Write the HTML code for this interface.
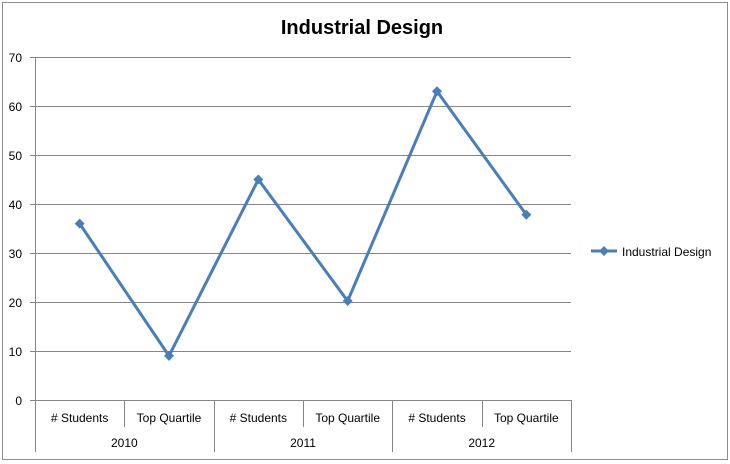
<!DOCTYPE html>
<html><head><meta charset="utf-8"><style>
body{margin:0;background:#fff;font-family:"Liberation Sans",sans-serif}
svg{display:block}
</style></head><body>
<svg width="730" height="464">
<rect x="2.5" y="2.5" width="725" height="457" fill="#fff" stroke="#8c8c8c"/>
<text x="362" y="34" text-anchor="middle" font-size="20" font-weight="bold">Industrial Design</text>
<g id="grid"></g><g id="axes"></g><g id="series"></g>
<g>
<line x1="591" y1="251" x2="617" y2="251" stroke="#4a7ebb" stroke-width="3"/>
<path d="M604 246 L609 251 L604 256 L599 251Z" fill="#4a7ebb"/>
<text x="622" y="256" font-size="12">Industrial Design</text>
</g>
</svg>
<script>
const categories=["# Students","Top Quartile","# Students","Top Quartile","# Students","Top Quartile"];
const years=["2010","2011","2012"];
const values=[36,9,45,20.2,63,37.8];
const yTicks=[0,10,20,30,40,50,60,70];
const NS="http://www.w3.org/2000/svg";
const L=35,R=571,T=57,B=400,yMax=70;
const y=v=>B-(v/yMax)*(B-T);
const cw=(R-L)/categories.length;
const x=i=>L+cw*(i+0.5);
function mk(t,a,p){const e=document.createElementNS(NS,t);for(const k in a)e.setAttribute(k,a[k]);p.appendChild(e);return e;}
const g=document.getElementById('grid'),ax=document.getElementById('axes'),s=document.getElementById('series');
yTicks.forEach(v=>{
 const l=mk('line',{x1:L-5,x2:R,y1:y(v)+.5,y2:y(v)+.5,stroke:v===0?'#868686':'#868686','stroke-width':1},g);
 
 
 const t=mk('text',{x:22,y:y(v)+5,'text-anchor':'end','font-size':12},ax);
 t.textContent=v;
 
 
});
mk('line',{x1:L+.5,x2:L+.5,y1:T,y2:B,stroke:'#868686'},ax);
for(let i=0;i<=categories.length;i++){
 const xx=Math.round(L+cw*i)+.5;
 mk('line',{x1:xx,x2:xx,y1:B,y2:i%2===0?452:427,stroke:'#868686'},ax);
}
categories.forEach((c,i)=>{
 const t=mk('text',{x:x(i),y:422,'text-anchor':'middle','font-size':12},ax);
 t.textContent=c;
 
 
});
years.forEach((c,i)=>{
 const t=mk('text',{x:L+cw*(2*i+1),y:447,'text-anchor':'middle','font-size':12},ax);
 t.textContent=c;
 
 
});
const pl=mk('polyline',{points:values.map((v,i)=>x(i)+','+y(v)).join(' '),fill:'none',stroke:'#4a7ebb','stroke-width':3,'stroke-linejoin':'round'},s);


values.forEach((v,i)=>{
 const cx=x(i),cy=y(v);
 const m=mk('path',{d:`M${cx} ${cy-5}L${cx+5} ${cy}L${cx} ${cy+5}L${cx-5} ${cy}Z`,fill:'#4a7ebb'},s);
 
 
});
</script>
</body></html>
